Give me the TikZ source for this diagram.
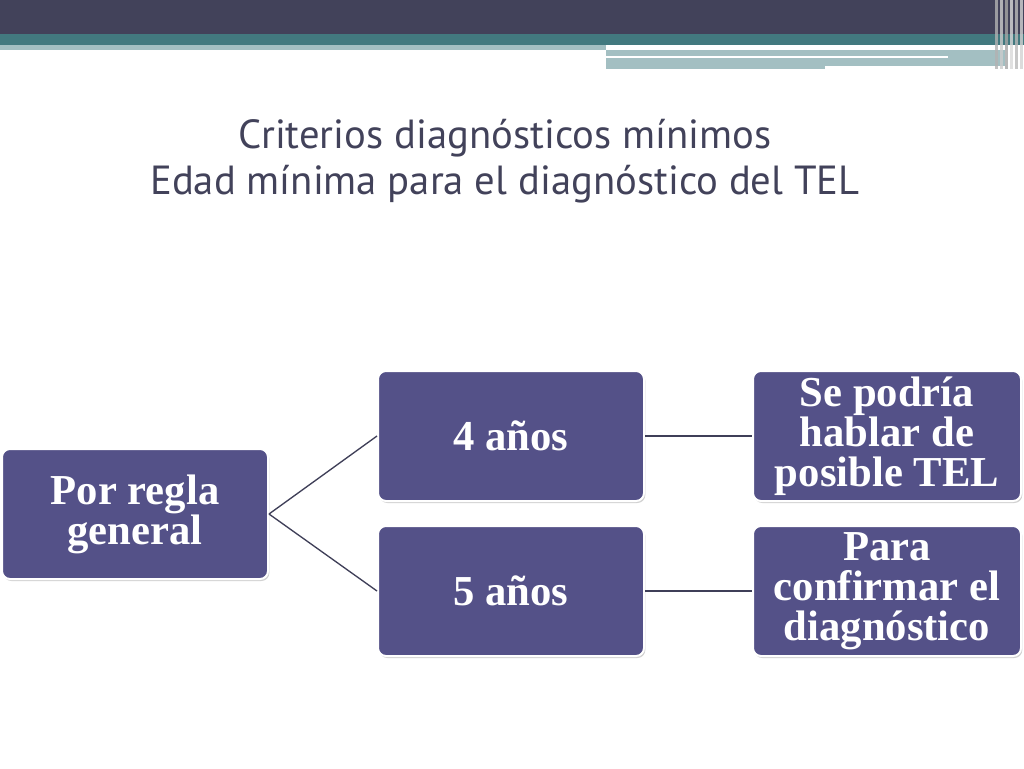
\documentclass[tikz,border=0pt]{standalone}
\usepackage{fontspec}
\setmainfont{Liberation Serif}
\newfontfamily\titlefont{PT Sans}
\usetikzlibrary{shadows}
\definecolor{boxfill}{HTML}{545188}
\definecolor{darkband}{HTML}{42425A}
\definecolor{tealband}{HTML}{42797F}
\definecolor{lightband}{HTML}{A3BFC2}
\definecolor{linec}{HTML}{3F3F58}
\begin{document}
\begin{tikzpicture}[x=0.75pt,y=-0.75pt,
  box/.style={draw=white,line width=1.5pt,fill=boxfill,rounded corners=6pt,
    text=white,font=\bfseries\fontsize{32}{30}\selectfont,align=center,
    drop shadow={shadow xshift=1pt,shadow yshift=-1.5pt,opacity=0.35},
    minimum width=266*0.75pt,minimum height=130*0.75pt,inner sep=1pt},
  conn/.style={draw=linec,line width=1pt}]
\useasboundingbox (0,0) rectangle (1024,768);
\fill[white] (0,0) rectangle (1024,768);
% top decoration
\fill[darkband] (0,0) rectangle (1024,34);
\fill[tealband] (0,34) rectangle (1024,45);
\fill[lightband] (0,45) rectangle (606,50);
\fill[lightband] (606,50) rectangle (1005,66);
\fill[white] (606,56) rectangle (948,58);
\fill[lightband] (606,58) rectangle (825,69);
\foreach \xx/\cc in {995/gray!60,1000/gray!40,1005/gray!70,1010/gray!30,1015/gray!55,1020/gray!35}
  \fill[\cc,opacity=0.8] (\xx,0) rectangle (\xx+3,69);
% title
\node[font=\titlefont\fontsize{30.5}{35}\selectfont,text=darkband,align=center] (title) at (505,161)
  {Criterios diagnósticos mínimos\\Edad mínima para el diagnóstico del TEL};
% boxes
\node[box] (root) at (135,514) {Por regla\\general};
\node[box] (a4) at (511,436) {4 años};
\node[box] (a5) at (511,591) {5 años};
\node[box,minimum width=268*0.75pt] (r4) at (887,436) {Se podría\\hablar de\\posible TEL};
\node[box,minimum width=268*0.75pt] (r5) at (887,591) {Para\\confirmar el\\diagnóstico};
\draw[conn] (root.east) -- (a4.west);
\draw[conn] (root.east) -- (a5.west);
\draw[conn] (a4.east) -- (r4.west);
\draw[conn] (a5.east) -- (r5.west);
\end{tikzpicture}
\end{document}
